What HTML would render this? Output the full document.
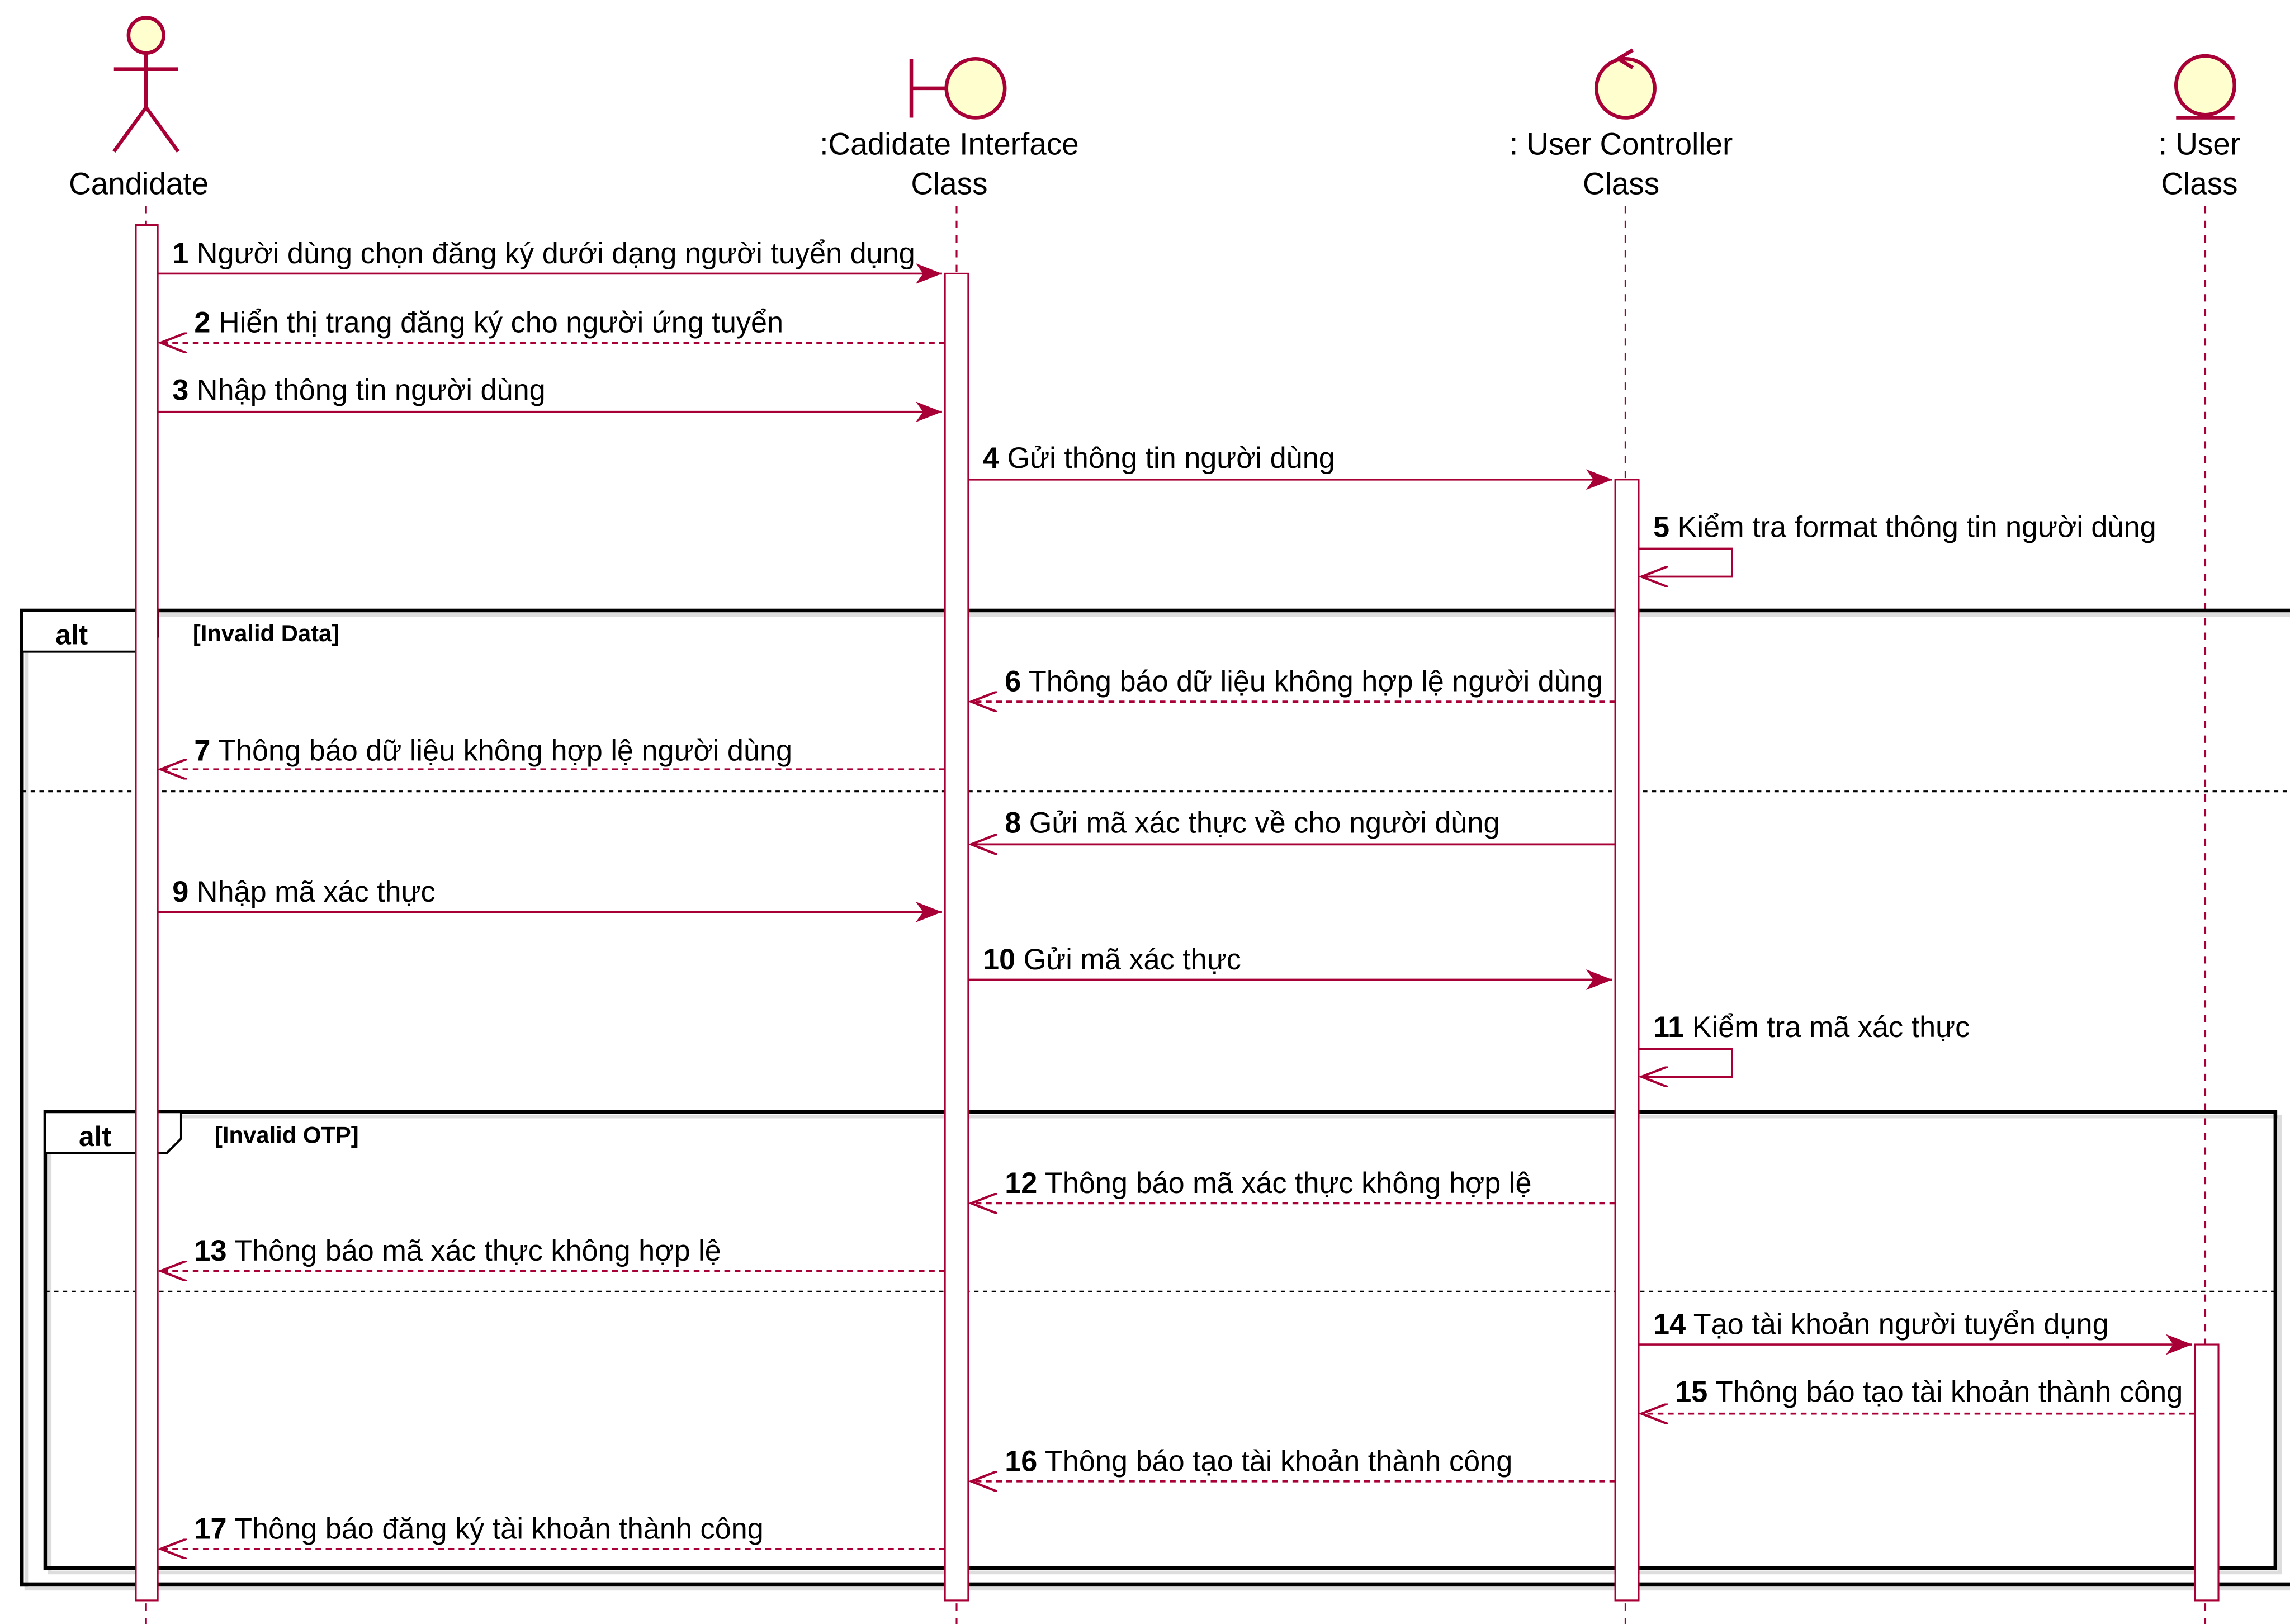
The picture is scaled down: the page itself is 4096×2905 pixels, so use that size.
<!DOCTYPE html>
<html><head><meta charset="utf-8"><style>
html,body{margin:0;padding:0;background:#fff;}
svg{display:block;}
text{font-family:"Liberation Sans",sans-serif;}
</style></head><body>
<svg width="4096" height="2905" viewBox="0 0 1568 1104" preserveAspectRatio="none" xmlns="http://www.w3.org/2000/svg">
<defs>
<marker id="ah" markerWidth="20" markerHeight="14" refX="18" refY="7" orient="auto" markerUnits="userSpaceOnUse">
<path d="M0,0 L18,7 L0,14 L5,7 Z" fill="#A80036"/>
</marker>
<marker id="ao" markerWidth="20" markerHeight="14" refX="18" refY="7" orient="auto" markerUnits="userSpaceOnUse">
<path d="M0,0 L18,7 L0,14" fill="none" stroke="#A80036" stroke-width="1.6"/>
</marker>
</defs>
<g stroke="#A80036" stroke-width="1.2" stroke-dasharray="5,5" fill="none">
<line x1="100" y1="140" x2="100" y2="1104"/>
<line x1="655" y1="140" x2="655" y2="1104"/>
<line x1="1113" y1="140" x2="1113" y2="1104"/>
<line x1="1510" y1="140" x2="1510" y2="1104"/>
</g>
<rect x="18" y="418" width="1560" height="662" fill="none" stroke="#ddd" stroke-width="2.5"/>
<rect x="15" y="415" width="1560" height="662" fill="none" stroke="#000" stroke-width="2.5"/>
<path d="M15,415 H108 V433 L98,443 H15 Z" fill="#fff" stroke="#000" stroke-width="1.5"/>
<text x="38" y="438" font-size="19" font-weight="bold">alt</text>
<text x="132" y="436" font-size="16" font-weight="bold">[Invalid Data]</text>
<line x1="15" y1="538" x2="1568" y2="538" stroke="#000" stroke-width="1.2" stroke-dasharray="3,3"/>
<rect x="34" y="759" width="1527" height="310" fill="none" stroke="#ddd" stroke-width="2.5"/>
<rect x="31" y="756" width="1527" height="310" fill="none" stroke="#000" stroke-width="2.5"/>
<path d="M31,756 H124 V774 L114,784 H31 Z" fill="#fff" stroke="#000" stroke-width="1.5"/>
<text x="54" y="779" font-size="19" font-weight="bold">alt</text>
<text x="147" y="777" font-size="16" font-weight="bold">[Invalid OTP]</text>
<line x1="31" y1="878" x2="1558" y2="878" stroke="#000" stroke-width="1.2" stroke-dasharray="3,3"/>
<g fill="#fff" stroke="#A80036" stroke-width="1.2">
<rect x="93" y="153" width="15" height="935"/>
<rect x="647" y="186" width="16" height="902"/>
<rect x="1106" y="326" width="16" height="762"/>
<rect x="1503" y="914" width="16" height="174"/>
</g>
<g fill="#FEFECE" stroke="#A80036" stroke-width="2.5">
<circle cx="100" cy="24" r="12"/>
<line x1="100" y1="36" x2="100" y2="73"/>
<line x1="78" y1="47" x2="122" y2="47"/>
<polyline points="78,103 100,73 122,103" fill="none"/>
<line x1="624" y1="40" x2="624" y2="80"/>
<line x1="624" y1="60" x2="648" y2="60"/>
<circle cx="668" cy="60" r="20"/>
<circle cx="1113" cy="60" r="20"/>
<circle cx="1510" cy="58" r="20"/>
<line x1="1490" y1="80" x2="1530" y2="80"/>
</g>
<path d="M1118,34 L1108,40 L1118,46" fill="none" stroke="#A80036" stroke-width="2.5"/>
<g font-size="21" text-anchor="middle" fill="#000">
<text x="95" y="132">Candidate</text>
<text x="650" y="105">:Cadidate Interface</text>
<text x="650" y="132">Class</text>
<text x="1110" y="105">: User Controller</text>
<text x="1110" y="132">Class</text>
<text x="1506" y="105">: User</text>
<text x="1506" y="132">Class</text>
</g>
<g stroke="#A80036" stroke-width="1.4" fill="none">
<line x1="108" y1="186" x2="645" y2="186" marker-end="url(#ah)"/>
<line x1="647" y1="233" x2="110" y2="233" stroke-dasharray="4,3" marker-end="url(#ao)"/>
<line x1="108" y1="280" x2="645" y2="280" marker-end="url(#ah)"/>
<line x1="663" y1="326" x2="1104" y2="326" marker-end="url(#ah)"/>
<polyline points="1122,373 1186,373 1186,392 1124,392" marker-end="url(#ao)"/>
<line x1="1106" y1="477" x2="665" y2="477" stroke-dasharray="4,3" marker-end="url(#ao)"/>
<line x1="647" y1="523" x2="110" y2="523" stroke-dasharray="4,3" marker-end="url(#ao)"/>
<line x1="1106" y1="574" x2="665" y2="574" marker-end="url(#ao)"/>
<line x1="108" y1="620" x2="645" y2="620" marker-end="url(#ah)"/>
<line x1="663" y1="666" x2="1104" y2="666" marker-end="url(#ah)"/>
<polyline points="1122,713 1186,713 1186,732 1124,732" marker-end="url(#ao)"/>
<line x1="1106" y1="818" x2="665" y2="818" stroke-dasharray="4,3" marker-end="url(#ao)"/>
<line x1="647" y1="864" x2="110" y2="864" stroke-dasharray="4,3" marker-end="url(#ao)"/>
<line x1="1122" y1="914" x2="1501" y2="914" marker-end="url(#ah)"/>
<line x1="1503" y1="961" x2="1124" y2="961" stroke-dasharray="4,3" marker-end="url(#ao)"/>
<line x1="1106" y1="1007" x2="665" y2="1007" stroke-dasharray="4,3" marker-end="url(#ao)"/>
<line x1="647" y1="1053" x2="110" y2="1053" stroke-dasharray="4,3" marker-end="url(#ao)"/>
</g>
<g font-size="20" fill="#000">
<text x="118" y="179"><tspan font-weight="bold">1</tspan> Người dùng chọn đăng ký dưới dạng người tuyển dụng</text>
<text x="133" y="226"><tspan font-weight="bold">2</tspan> Hiển thị trang đăng ký cho người ứng tuyển</text>
<text x="118" y="272"><tspan font-weight="bold">3</tspan> Nhập thông tin người dùng</text>
<text x="673" y="318"><tspan font-weight="bold">4</tspan> Gửi thông tin người dùng</text>
<text x="1132" y="365"><tspan font-weight="bold">5</tspan> Kiểm tra format thông tin người dùng</text>
<text x="688" y="470"><tspan font-weight="bold">6</tspan> Thông báo dữ liệu không hợp lệ người dùng</text>
<text x="133" y="517"><tspan font-weight="bold">7</tspan> Thông báo dữ liệu không hợp lệ người dùng</text>
<text x="688" y="566"><tspan font-weight="bold">8</tspan> Gửi mã xác thực về cho người dùng</text>
<text x="118" y="613"><tspan font-weight="bold">9</tspan> Nhập mã xác thực</text>
<text x="673" y="659"><tspan font-weight="bold">10</tspan> Gửi mã xác thực</text>
<text x="1132" y="705"><tspan font-weight="bold">11</tspan> Kiểm tra mã xác thực</text>
<text x="688" y="811"><tspan font-weight="bold">12</tspan> Thông báo mã xác thực không hợp lệ</text>
<text x="133" y="857"><tspan font-weight="bold">13</tspan> Thông báo mã xác thực không hợp lệ</text>
<text x="1132" y="907"><tspan font-weight="bold">14</tspan> Tạo tài khoản người tuyển dụng</text>
<text x="1147" y="953"><tspan font-weight="bold">15</tspan> Thông báo tạo tài khoản thành công</text>
<text x="688" y="1000"><tspan font-weight="bold">16</tspan> Thông báo tạo tài khoản thành công</text>
<text x="133" y="1046"><tspan font-weight="bold">17</tspan> Thông báo đăng ký tài khoản thành công</text>
</g>
</svg>
</body></html>
